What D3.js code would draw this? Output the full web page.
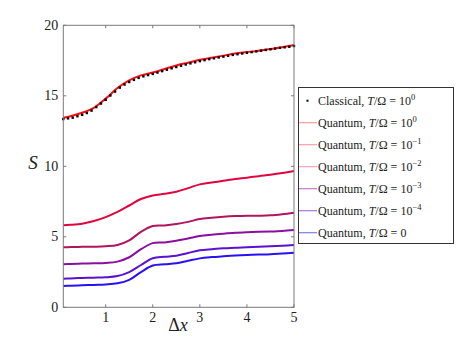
<!DOCTYPE html>
<html><head><meta charset="utf-8">
<script src="https://cdn.jsdelivr.net/npm/d3@7"></script>
<style>body{margin:0;background:#fff}svg{display:block}
text{font-family:"Liberation Serif","DejaVu Serif",serif}</style>
</head><body><svg id="c" width="457" height="346"></svg>
<script>
const xs = [0.1,0.25,0.5,0.75,1.0,1.25,1.5,1.75,2.0,2.25,2.5,2.75,3.0,3.25,3.5,3.75,4.0,4.25,4.5,4.75,5.0];
const q1    = [13.45,13.55,13.8,14.15,14.8,15.55,16.1,16.45,16.65,16.9,17.15,17.35,17.55,17.7,17.85,18.0,18.1,18.2,18.32,18.45,18.6];
const q1e1  = [5.82,5.85,5.93,6.12,6.4,6.77,7.22,7.68,7.93,8.05,8.2,8.45,8.72,8.85,8.97,9.1,9.19,9.3,9.4,9.52,9.67];
const q1e2  = [4.26,4.27,4.29,4.3,4.33,4.42,4.75,5.35,5.76,5.8,5.9,6.06,6.26,6.35,6.42,6.47,6.5,6.5,6.52,6.6,6.71];
const q1e3  = [3.05,3.07,3.1,3.12,3.15,3.24,3.55,4.12,4.55,4.6,4.72,4.88,5.06,5.15,5.22,5.28,5.32,5.35,5.38,5.42,5.48];
const q1e4  = [2.03,2.05,2.08,2.1,2.13,2.22,2.5,3.0,3.48,3.58,3.65,3.85,4.04,4.12,4.18,4.23,4.26,4.3,4.33,4.37,4.42];
const q0    = [1.51,1.53,1.56,1.59,1.62,1.7,1.95,2.5,2.96,3.05,3.12,3.3,3.47,3.56,3.62,3.67,3.71,3.74,3.77,3.82,3.87];
const cx = [0.1,0.2,0.3,0.4,0.5,0.6,0.7,0.8,0.9,1.0,1.1,1.2,1.3,1.4,1.5,1.6,1.7,1.8,1.9,2.0,2.1,2.2,2.3,2.4,2.5,2.6,2.7,2.8,2.9,3.0,3.1,3.2,3.3,3.4,3.5,3.6,3.7,3.8,3.9,4.0,4.1,4.2,4.3,4.4,4.5,4.6,4.7,4.8,4.9,5.0];
const classical = [13.35,13.4,13.45,13.55,13.65,13.78,13.95,14.2,14.45,14.72,15.02,15.3,15.58,15.8,15.98,16.13,16.27,16.38,16.47,16.55,16.65,16.75,16.85,16.95,17.04,17.13,17.22,17.3,17.38,17.46,17.53,17.6,17.66,17.72,17.78,17.84,17.9,17.95,18.0,18.05,18.1,18.15,18.2,18.25,18.3,18.35,18.4,18.44,18.48,18.53];
const xTicks = [1,2,3,4,5];
const yTicks = [0,5,10,15,20];
const seriesNames = ["10^0","10^-1","10^-2","10^-3","10^-4","0"];
const seriesData = [q1,q1e1,q1e2,q1e3,q1e4,q0];
const lineColors = ["#ff0a14","#e0053e","#b0155e","#8a0f9e","#5a12d2","#2a10f2"];
const legendColors = ["#ff9a9a","#ff9aaa","#f4a0c4","#c878c8","#a67ae0","#8878ee"];

const svg = d3.select("#c");
const L=63.3, R=294, T=25.3, B=307.3;
const x = d3.scaleLinear().domain([0.1,5]).range([L,R]);
const y = d3.scaleLinear().domain([0,20]).range([B,T]);
const axisCol = "#7a7a7a";

const line = d3.line().x((d,i)=>x(xs[i])).y(d=>y(d)).curve(d3.curveCatmullRom.alpha(0.5));
for (let k=seriesData.length-1;k>=0;k--){
  svg.append("path").attr("d", line(seriesData[k])).attr("fill","none")
    .attr("stroke", lineColors[k]).attr("stroke-width",2);
}
svg.append("g").selectAll("rect").data(classical).join("rect")
  .attr("x",(d,i)=>x(cx[i])-1.2).attr("y",d=>y(d)-1.2)
  .attr("width",2.4).attr("height",2.4).attr("fill","#000");

const g = svg.append("g").attr("stroke",axisCol).attr("stroke-width",1).attr("fill","none");
g.append("rect").attr("x",L).attr("y",T).attr("width",R-L).attr("height",B-T);
xTicks.forEach(t=>{
  g.append("line").attr("x1",x(t)).attr("x2",x(t)).attr("y1",B).attr("y2",B-3);
  g.append("line").attr("x1",x(t)).attr("x2",x(t)).attr("y1",T).attr("y2",T+3);
});
yTicks.forEach(t=>{
  g.append("line").attr("x1",L).attr("x2",L+3).attr("y1",y(t)).attr("y2",y(t));
  g.append("line").attr("x1",R).attr("x2",R-3).attr("y1",y(t)).attr("y2",y(t));
});
svg.append("g").selectAll("text").data(xTicks).join("text")
  .attr("x",d=>x(d)).attr("y",B+15).attr("text-anchor","middle")
  .attr("font-size",14).attr("fill","#222").text(d=>d);
svg.append("g").selectAll("text").data(yTicks).join("text")
  .attr("x",L-5).attr("y",d=>y(d)+4.5).attr("text-anchor","end")
  .attr("font-size",14).attr("fill","#222").text(d=>d);
svg.append("text").attr("x",33).attr("y",169).attr("text-anchor","middle")
  .attr("font-style","italic").attr("font-size",19).attr("fill","#222").text("S");
const xl = svg.append("text").attr("x",178).attr("y",331).attr("text-anchor","middle")
  .attr("font-size",18).attr("fill","#222");
xl.append("tspan").text("Δ");
xl.append("tspan").attr("font-style","italic").text("x");

const lg = svg.append("g");
lg.append("rect").attr("x",298.5).attr("y",87.5).attr("width",155).attr("height",156)
  .attr("fill","#fff").attr("stroke","#333").attr("stroke-width",1);
const rowY = i => 100.7 + i*22;
function label(t, yy, val){
  const tx = lg.append("text").attr("x",318).attr("y",yy+4)
    .attr("font-size",12).attr("fill","#222");
  tx.append("tspan").text(t+", ");
  tx.append("tspan").attr("font-style","italic").text("T");
  tx.append("tspan").text("/Ω = ");
  if (val==="0"){ tx.append("tspan").text("0"); }
  else {
    const exp = val.split("^")[1];
    tx.append("tspan").text("10");
    tx.append("tspan").attr("font-size",8.5).attr("dy",-5).text(exp.replace("-","−"));
  }
}
lg.append("rect").attr("x",306.5).attr("y",rowY(0)-1).attr("width",2).attr("height",2).attr("fill","#000");
label("Classical", rowY(0), "10^0");
seriesNames.forEach((n,i)=>{
  const yy = rowY(i+1);
  lg.append("line").attr("x1",299).attr("x2",317).attr("y1",yy).attr("y2",yy)
    .attr("stroke",legendColors[i]).attr("stroke-width",1.2);
  label("Quantum", yy, n);
});
</script></body></html>
